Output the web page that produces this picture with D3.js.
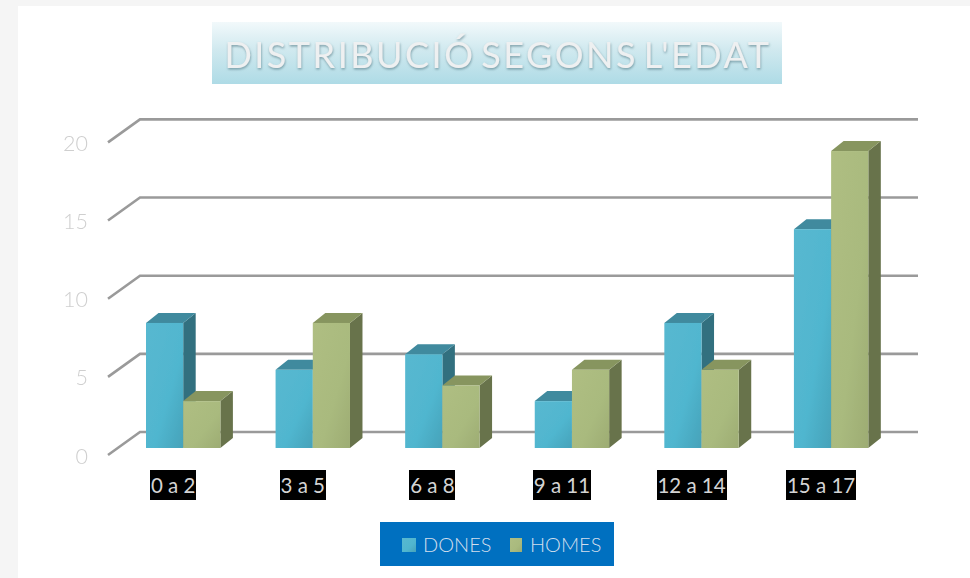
<!DOCTYPE html>
<html><head><meta charset="utf-8">
<script src="https://cdnjs.cloudflare.com/ajax/libs/d3/7.8.5/d3.min.js"></script>
<style>html,body{margin:0;padding:0;background:#fff;overflow:hidden}svg{display:block}text{font-family:Lato,"Open Sans",sans-serif}</style>
</head><body><svg id="c" width="970" height="578"></svg>
<script>
const categories=["0 a 2","3 a 5","6 a 8","9 a 11","12 a 14","15 a 17"];
const seriesNames=["DONES","HOMES"];
const dones=[8,5,6,3,8,14];
const homes=[3,8,4,5,5,19];
const yTicks=[0,5,10,15,20];
const chartTitle="DISTRIBUCIÓ SEGONS L'EDAT";

const svg=d3.select("#c");
const defs=svg.append("defs");
function grad(id,x2,y2,stops){const g=defs.append("linearGradient").attr("id",id).attr("x1",0).attr("y1",0).attr("x2",x2).attr("y2",y2);
 stops.forEach(s=>g.append("stop").attr("offset",s[0]).attr("stop-color",s[1]));}
grad("gTitle",0,1,[[0,"#f2f9fb"],[0.45,"#d0e9ef"],[1,"#aedbe6"]]);
grad("gBlue",1,1,[[0,"#58b8d0"],[0.6,"#50b6cf"],[1,"#46a2b9"]]);
grad("gGreen",1,1,[[0,"#afbe82"],[0.6,"#a9ba7e"],[1,"#9dac73"]]);
const blur=defs.append("filter").attr("id","soft").attr("x","-5%").attr("y","-5%").attr("width","110%").attr("height","110%");
blur.append("feGaussianBlur").attr("stdDeviation",0.7);
const tb=defs.append("filter").attr("id","tsoft").attr("x","-5%").attr("y","-5%").attr("width","110%").attr("height","110%");
tb.append("feGaussianBlur").attr("stdDeviation",0.35);
const ts=defs.append("filter").attr("id","tsh").attr("x","-5%").attr("y","-20%").attr("width","110%").attr("height","140%");
ts.append("feDropShadow").attr("dx",0.5).attr("dy",1.5).attr("stdDeviation",1).attr("flood-color","#5f8590").attr("flood-opacity",0.75);

// page frame
svg.append("rect").attr("width",970).attr("height",578).attr("fill","#f5f5f5");
svg.append("rect").attr("x",18).attr("y",6).attr("width",952).attr("height",572).attr("fill","#fff");

// title
svg.append("rect").attr("x",212).attr("y",22).attr("width",570).attr("height",62).attr("fill","url(#gTitle)");
svg.append("text").attr("x",498).attr("y",68).attr("text-anchor","middle").attr("font-size",36)
 .attr("letter-spacing",2.5).attr("word-spacing",-6)
 .attr("fill","#eef0f1").attr("filter","url(#tsh)").text(chartTitle);

// scales
const y=d3.scaleLinear().domain([0,20]).range([448,135.4]);
const x=d3.scaleBand().domain(categories).range([116.5,894]).paddingInner(0).paddingOuter(0);
const barW=37.2, depthX=12.5, depthY=10, groupPad=29.5;
const backShift=-16, frontLeft=108, backLeft=140, right=918;

// gridlines (back wall + side wall)
const grid=svg.append("g").attr("filter","url(#soft)");
yTicks.forEach(t=>{
 const yb=y(t)+backShift, yf=y(t)+7;
 grid.append("path").attr("d",d3.line()([[frontLeft,yf],[backLeft,yb],[right,yb]]))
  .attr("fill","none").attr("stroke","#9a9a9a").attr("stroke-width",2.6);
});

// y tick labels
svg.append("g").attr("filter","url(#tsoft)").selectAll("text").data(yTicks).join("text")
 .attr("x",88).attr("y",t=>y(t)+15.5).attr("text-anchor","end").attr("font-size",21.5).attr("font-weight",300).attr("fill","#cfcfcf").text(t=>t);

// bars
function bar(g,x0,v,front,top,side){
 const yt=y(v), yb=y(0), w=barW;
 g.append("path").attr("d",d3.line()([[x0+w,yt],[x0+w+depthX,yt-depthY],[x0+w+depthX,yb-depthY],[x0+w,yb]])).attr("fill",side);
 g.append("path").attr("d",d3.line()([[x0,yt],[x0+depthX,yt-depthY],[x0+w+depthX,yt-depthY],[x0+w,yt]])).attr("fill",top);
 g.append("rect").attr("x",x0).attr("y",yt).attr("width",w).attr("height",yb-yt).attr("fill",front);
}
const bars=svg.append("g").attr("filter","url(#soft)");
categories.forEach((c,i)=>{
 const x0=x(c)+groupPad;
 bar(bars,x0,dones[i],"url(#gBlue)","#3f8a9e","#33707f");
 bar(bars,x0+barW,homes[i],"url(#gGreen)","#87955f","#68734b");
});

// category labels
const cat=svg.append("g");
const labelW=[46,46,46,58,70,70];
categories.forEach((c,i)=>{
 const cx=x(c)+groupPad+barW-10;
 cat.append("rect").attr("x",Math.round(cx-labelW[i]/2)).attr("y",470).attr("width",labelW[i]).attr("height",30).attr("fill","#000");
 cat.append("text").attr("x",cx).attr("y",493).attr("text-anchor","middle").attr("font-size",20.5).attr("fill","#d4d4d4").text(c);
});

// legend
svg.append("rect").attr("x",380).attr("y",522).attr("width",234).attr("height",44).attr("fill","#0070c0");
const lx=[402,510], tx=[423,530], fills=["url(#gBlue)","url(#gGreen)"];
seriesNames.forEach((n,i)=>{
 svg.append("rect").attr("x",lx[i]).attr("y",538).attr("width",i?12:14).attr("height",14).attr("fill",fills[i]);
 svg.append("text").attr("x",tx[i]).attr("y",552).attr("font-size",20).attr("font-weight",300).attr("fill","#d2deec").text(n);
});
</script></body></html>
